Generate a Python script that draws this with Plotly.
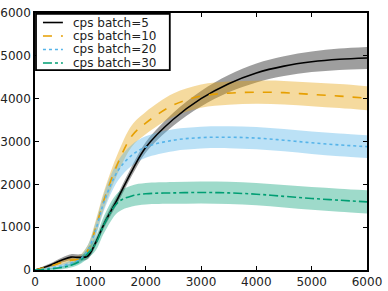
import plotly.graph_objects as go

x = [0, 250, 500, 650, 800, 950, 1100, 1250, 1500, 1750, 2000, 2500, 3000, 3500, 4000, 4500, 5000, 5500, 6000]

labels = ["cps batch=5", "cps batch=10", "cps batch=20", "cps batch=30"]

mean_b5 = [0, 100, 240, 300, 295, 320, 650, 1080, 1680, 2310, 2860, 3520, 4000, 4350, 4600, 4760, 4860, 4920, 4950]
mean_b10 = [0, 80, 180, 230, 260, 450, 1000, 1650, 2500, 3130, 3430, 3850, 4060, 4130, 4150, 4140, 4100, 4060, 4010]
mean_b20 = [0, 40, 100, 160, 230, 450, 950, 1600, 2320, 2680, 2870, 3030, 3090, 3100, 3080, 3030, 2970, 2920, 2880]
mean_b30 = [0, 20, 60, 110, 200, 380, 620, 1070, 1580, 1730, 1780, 1800, 1810, 1800, 1770, 1720, 1670, 1630, 1590]

spread_b5 = [10, 40, 60, 70, 70, 70, 80, 90, 100, 110, 120, 150, 180, 200, 220, 230, 240, 250, 255]
spread_b10 = [10, 30, 60, 70, 80, 120, 170, 200, 230, 250, 260, 270, 270, 270, 270, 275, 275, 280, 280]
spread_b20 = [10, 30, 50, 60, 80, 120, 170, 200, 230, 245, 250, 255, 255, 255, 260, 260, 262, 265, 265]
spread_b30 = [10, 20, 40, 50, 70, 110, 160, 200, 230, 245, 250, 255, 255, 258, 260, 262, 265, 268, 270]

series = [
    (labels[0], mean_b5, spread_b5, "#000000", "rgba(0,0,0,0.38)", "solid"),
    (labels[1], mean_b10, spread_b10, "#E69F00", "rgba(230,159,0,0.38)", "dash"),
    (labels[2], mean_b20, spread_b20, "#56B4E9", "rgba(86,180,233,0.4)", "dot"),
    (labels[3], mean_b30, spread_b30, "#009E73", "rgba(0,158,115,0.38)", "dashdot"),
]

fig = go.Figure()
for name, m, s, col, fillcol, dash in series:
    lo = [a - b for a, b in zip(m, s)]
    hi = [a + b for a, b in zip(m, s)]
    fig.add_trace(go.Scatter(x=x, y=lo, mode="lines", line=dict(width=0, shape="spline"),
                             showlegend=False, hoverinfo="skip"))
    fig.add_trace(go.Scatter(x=x, y=hi, mode="lines", line=dict(width=0, shape="spline"),
                             fill="tonexty", fillcolor=fillcol, showlegend=False, hoverinfo="skip"))
for name, m, s, col, fillcol, dash in series:
    fig.add_trace(go.Scatter(x=x, y=m, mode="lines", name=name, showlegend=False,
                             line=dict(color=col, width=1.6, dash=dash, shape="spline")))

# legend drawn in paper coordinates (compact, matplotlib-like)
fig.add_shape(type="rect", xref="paper", yref="paper", x0=0.003, x1=0.406, y0=0.778, y1=0.997,
              line=dict(color="black", width=1.8), fillcolor="white", layer="above")
row_y = [0.963, 0.9105, 0.858, 0.8054]
for (name, m, s, col, fillcol, dash), yy in zip(series, row_y):
    fig.add_shape(type="line", xref="paper", yref="paper", x0=0.024, x1=0.084, y0=yy, y1=yy,
                  line=dict(color=col, width=1.6, dash=dash), layer="above")
    fig.add_annotation(xref="paper", yref="paper", x=0.108, y=yy, text=name, showarrow=False,
                       xanchor="left", yanchor="middle",
                       font=dict(family="DejaVu Sans", size=12, color="#222"))

axis_common = dict(showline=True, linecolor="black", linewidth=1.6, mirror="allticks",
                   ticks="inside", ticklen=4, tickwidth=1, tickcolor="black",
                   showgrid=False, zeroline=False, automargin=False,
                   tickfont=dict(family="DejaVu Sans", size=12, color="#222"))

fig.update_layout(
    width=388, height=291,
    margin=dict(l=35, r=21, t=13, b=21),
    paper_bgcolor="white", plot_bgcolor="white",
    xaxis=dict(range=[0, 6000], tickvals=[0, 1000, 2000, 3000, 4000, 5000, 6000], **axis_common),
    yaxis=dict(range=[0, 6000], tickvals=[0, 1000, 2000, 3000, 4000, 5000, 6000], **axis_common),
    showlegend=False,
)

fig.write_html("out.html", config={"displayModeBar": False},
               post_script="document.body.style.margin='0';")
